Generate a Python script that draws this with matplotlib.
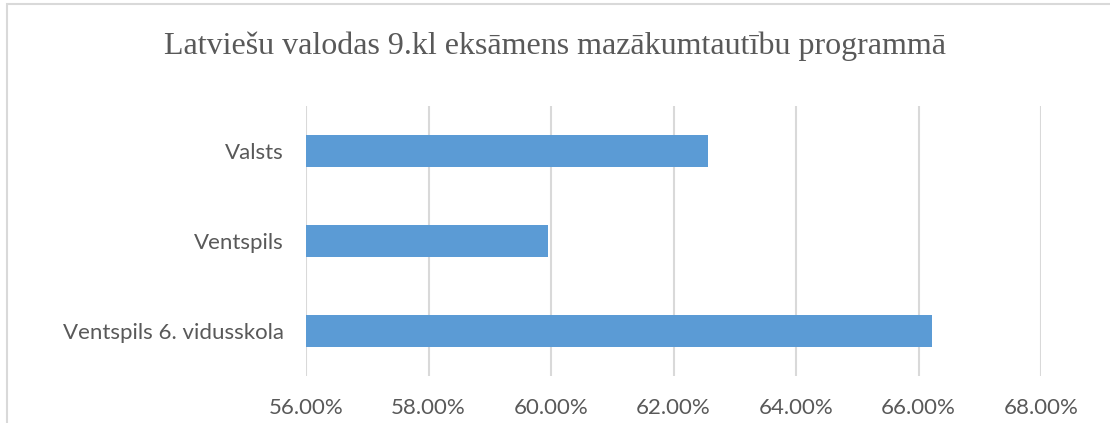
import matplotlib
matplotlib.use("Agg")
import matplotlib.pyplot as plt
from matplotlib.patches import Rectangle
from matplotlib.ticker import FuncFormatter

categories = ["Ventspils 6. vidusskola", "Ventspils", "Valsts"]
values = [66.22, 59.95, 62.57]
x_ticks = [56, 58, 60, 62, 64, 66, 68]

text_color = "#595959"
bar_color = "#5B9BD5"
grid_color = "#D9D9D9"

fig = plt.figure(figsize=(11.1, 4.23), dpi=100)
ax = fig.add_axes([306 / 1110, 1 - 376 / 423, 735 / 1110, 270 / 423])

ax.barh(categories, values, height=0.35, color=bar_color, left=0)
ax.set_xlim(56, 68)
ax.set_ylim(-0.5, 2.5)
ax.set_xticks(x_ticks)
ax.xaxis.set_major_formatter(FuncFormatter(lambda v, p: f"{v:.2f}%"))

ax.grid(axis="x", color=grid_color, linewidth=1.5)
ax.set_axisbelow(True)
for s in ax.spines.values():
    s.set_visible(False)
ax.tick_params(axis="both", length=0, labelsize=16, labelcolor=text_color)
ax.tick_params(axis="x", pad=16)
ax.tick_params(axis="y", pad=16)
for lab in ax.get_xticklabels() + ax.get_yticklabels():
    lab.set_fontfamily("Lato")

fig.text(0.5, 1 - 46 / 423, "Latviešu valodas 9.kl eksāmens mazākumtautību programmā",
         ha="center", va="center", fontsize=23, color=text_color,
         family="Liberation Serif")

# chart border
fig.patches.append(Rectangle((7 / 1110, -0.1), 1.2, 1.1 - 4 / 423,
                             transform=fig.transFigure, fill=False,
                             edgecolor=grid_color, linewidth=1.5))

fig.savefig("out.png", dpi=100)
